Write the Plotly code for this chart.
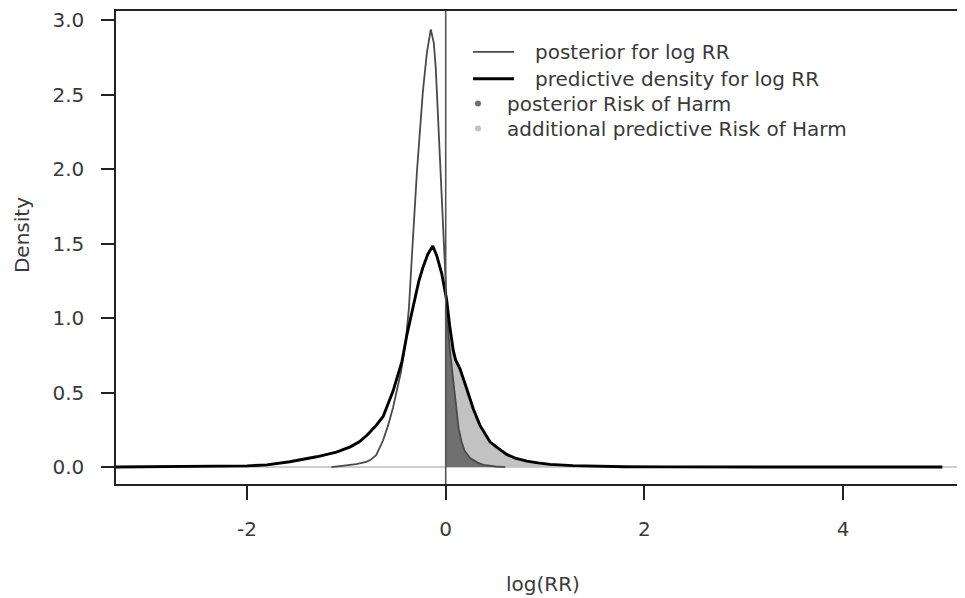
import plotly.graph_objects as go

# ---- data ----
post_x = [-1.15, -1.0, -0.9, -0.8, -0.76, -0.70, -0.63, -0.58, -0.53, -0.49, -0.45, -0.40, -0.37,
          -0.34, -0.29, -0.23, -0.19, -0.15, -0.12, -0.10, -0.06, -0.03, 0.0, 0.02, 0.043, 0.077,
          0.11, 0.13, 0.16, 0.19, 0.245, 0.32, 0.38, 0.5, 0.6]
post_y = [0.0, 0.01, 0.02, 0.035, 0.047, 0.08, 0.18, 0.28, 0.40, 0.52, 0.64, 0.86, 1.07,
          1.42, 1.98, 2.52, 2.78, 2.94, 2.85, 2.68, 2.12, 1.75, 1.28, 0.95, 0.78, 0.56,
          0.35, 0.26, 0.17, 0.11, 0.06, 0.03, 0.015, 0.004, 0.0]

pred_x = [-3.4, -2.5, -2.2, -2.0, -1.8, -1.57, -1.3, -1.1, -0.96, -0.87, -0.79, -0.70, -0.63,
          -0.53, -0.44, -0.39, -0.33, -0.27, -0.23, -0.18, -0.13, -0.09, -0.04, 0.0, 0.01, 0.04,
          0.077, 0.10, 0.144, 0.21, 0.278, 0.345, 0.446, 0.52, 0.614, 0.70, 0.815, 0.93, 1.05,
          1.28, 1.45, 1.52, 1.58, 1.8, 2.2, 3.0, 5.0]
pred_y = [0.0, 0.002, 0.004, 0.008, 0.015, 0.036, 0.069, 0.10, 0.136, 0.17, 0.215, 0.28, 0.34,
          0.51, 0.71, 0.89, 1.07, 1.25, 1.34, 1.43, 1.485, 1.42, 1.30, 1.16, 1.12, 0.95,
          0.78, 0.72, 0.66, 0.53, 0.39, 0.28, 0.17, 0.13, 0.085, 0.06, 0.04, 0.028, 0.018,
          0.01, 0.006, 0.009, 0.003, 0.002, 0.001, 0.0005, 0.0]

x_ticks = [-2, 0, 2, 4]
y_ticks = [0.0, 0.5, 1.0, 1.5, 2.0, 2.5, 3.0]
legend_labels = ["posterior for log RR", "predictive density for log RR",
                 "posterior Risk of Harm", "additional predictive Risk of Harm"]

FONT = "DejaVu Sans"
FS = 20
TXT = "#3a3a3a"
AX = "#222222"

OFF = 8  # page body margin
W, H = 957, 590
ML, MR, MT, MB = 108, 0, 1, 114
PW, PH = W - ML - MR, H - MT - MB


def px(xp):
    return (xp - OFF - ML) / PW


def py(yp):
    return (MT + PH - (yp - OFF)) / PH


fig = go.Figure()

# shaded tails (x >= 0)
pxp = [x for x in pred_x if x >= 0]
pyp = [y for x, y in zip(pred_x, pred_y) if x >= 0]
cut = [i for i, y in enumerate(pyp) if y > 0.004]
pxp = pxp[: cut[-1] + 1]
pyp = pyp[: cut[-1] + 1]
fig.add_trace(go.Scatter(x=[0] + pxp + [pxp[-1], 0], y=[0] + pyp + [0, 0], mode="lines",
                         fill="toself", fillcolor="#c2c2c2", line=dict(width=0),
                         showlegend=False, hoverinfo="skip"))
qx = [x for x in post_x if x >= 0]
qy = [y for x, y in zip(post_x, post_y) if x >= 0]
fig.add_trace(go.Scatter(x=[0] + qx + [qx[-1], 0], y=[0] + qy + [0, 0], mode="lines",
                         fill="toself", fillcolor="#6f6f6f", line=dict(width=0),
                         showlegend=False, hoverinfo="skip"))

# curves
fig.add_trace(go.Scatter(x=post_x, y=post_y, mode="lines", line=dict(color="#4a4a4a", width=1.8),
                         name=legend_labels[0], showlegend=False))
fig.add_trace(go.Scatter(x=pred_x, y=pred_y, mode="lines", line=dict(color="#000000", width=2.9),
                         name=legend_labels[1], showlegend=False))

shapes = [
    dict(type="line", xref="paper", yref="y", x0=0, x1=1, y0=0, y1=0,
         line=dict(color="#bdbdbd", width=1.5), layer="below"),
    dict(type="line", xref="x", yref="paper", x0=0, x1=0, y0=0, y1=1,
         line=dict(color="#555555", width=1.6), layer="above"),
    # legend line samples
    dict(type="line", xref="paper", yref="paper", x0=px(473), x1=px(514), y0=py(50), y1=py(50),
         line=dict(color="#4a4a4a", width=1.8)),
    dict(type="line", xref="paper", yref="paper", x0=px(473), x1=px(514), y0=py(77), y1=py(77),
         line=dict(color="#000000", width=2.9)),
    dict(type="circle", xref="paper", yref="paper", x0=px(475), x1=px(481), y0=py(99), y1=py(105),
         fillcolor="#6f6f6f", line=dict(width=0)),
    dict(type="circle", xref="paper", yref="paper", x0=px(475), x1=px(481), y0=py(124), y1=py(130),
         fillcolor="#c2c2c2", line=dict(width=0)),
]

annotations = []
for lab, lx, ly in zip(legend_labels, [533, 533, 505, 505], [50, 77, 102, 127]):
    annotations.append(dict(text=lab, xref="paper", yref="paper", x=px(lx), y=py(ly),
                            xanchor="left", yanchor="middle", showarrow=False,
                            font=dict(family=FONT, size=FS, color=TXT)))
annotations.append(dict(text="log(RR)", xref="paper", yref="paper", x=px(543), y=py(584),
                        xanchor="center", yanchor="middle", showarrow=False,
                        font=dict(family=FONT, size=FS, color=TXT)))
annotations.append(dict(text="Density", xref="paper", yref="paper", x=px(22), y=py(234),
                        xanchor="center", yanchor="middle", showarrow=False, textangle=-90,
                        font=dict(family=FONT, size=FS, color=TXT)))

x0px = 445.7 - OFF
xs = 99.33
xmin = -(x0px - ML) / xs
xmax = xmin + PW / xs
y0px = 467 - OFF
ys = 149.5
ymax = (y0px - MT) / ys
ymin = ymax - PH / ys

fig.update_layout(
    width=W, height=H, margin=dict(l=ML, r=MR, t=MT, b=MB, pad=0),
    paper_bgcolor="white", plot_bgcolor="white",
    shapes=shapes, annotations=annotations, showlegend=False,
    xaxis=dict(range=[xmin, xmax], tickvals=x_ticks, ticktext=[str(v) for v in x_ticks],
               showgrid=False, zeroline=False, showline=True, mirror=True,
               linecolor=AX, linewidth=1.5, ticks="outside", ticklen=14, tickwidth=1.5,
               tickcolor=AX, ticklabelstandoff=12, ticklabeloverflow="allow",
               tickfont=dict(family=FONT, size=FS, color=TXT)),
    yaxis=dict(range=[ymin, ymax], tickvals=y_ticks, ticktext=[f"{v:.1f}" for v in y_ticks],
               showgrid=False, zeroline=False, showline=True, mirror=False,
               linecolor=AX, linewidth=1.5, ticks="outside", ticklen=13, tickwidth=1.5,
               tickcolor=AX, ticklabelstandoff=13, ticklabeloverflow="allow",
               tickfont=dict(family=FONT, size=FS, color=TXT)),
)

fig.write_html("out.html")
